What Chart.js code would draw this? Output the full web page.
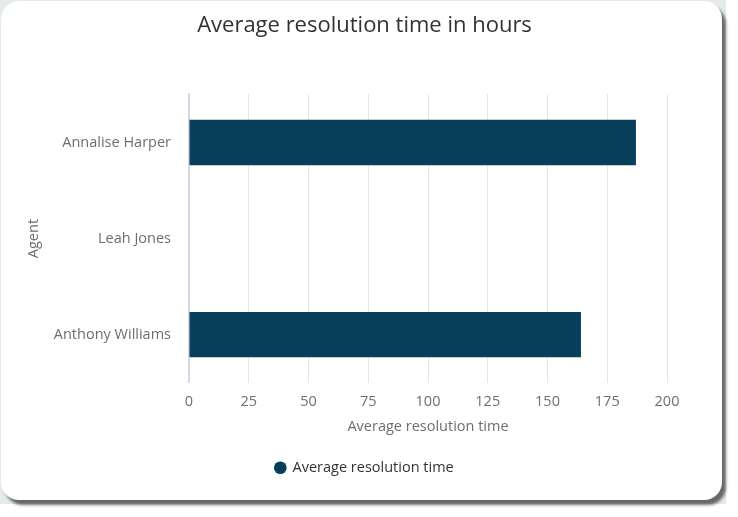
<!DOCTYPE html>
<html>
<head>
<meta charset="utf-8">
<script src="https://cdn.jsdelivr.net/npm/chart.js@4"></script>
<style>
  html, body { margin: 0; padding: 0; background: #fff; }
  body { width: 738px; height: 517px; position: relative; overflow: hidden; }
  .backdrop { position: absolute; left: 0; top: 0; width: 726px; height: 504px; background: #e3eae8; }
  .card {
    position: absolute; left: 1px; top: 1px; width: 721px; height: 499px;
    background: #fff; border-radius: 18px;
    box-shadow: 4px 5px 3px rgba(0, 0, 0, 0.55);
  }
  .card canvas { display: block; }
</style>
</head>
<body>
<div class="backdrop"></div>
<div class="card"><canvas id="chart" width="721" height="499"></canvas></div>
<script>
const agents = ["Annalise Harper", "Leah Jones", "Anthony Williams"];
const avgHours = [187, 0, 164];
const seriesName = "Average resolution time";

const barColor = "#073e5a";
const font = "'Open Sans', Lato, sans-serif";

var ctx = document.getElementById("chart").getContext("2d");
var myChart = new Chart(ctx, {
  type: "bar",
  data: {
    labels: agents,
    datasets: [
      {
        label: seriesName,
        data: avgHours,
        backgroundColor: barColor,
        borderWidth: 0,
        barPercentage: 0.59,
        categoryPercentage: 0.8,
      },
    ],
  },
  options: {
    indexAxis: "y",
    responsive: false,
    animation: false,
    layout: { padding: { left: 17, right: 11, top: 5, bottom: 15 } },
    plugins: {
      title: {
        display: true,
        text: "Average resolution time in hours",
        color: "#323232",
        font: { family: font, size: 22, weight: "normal" },
        padding: { top: 7, bottom: 55 },
      },
      legend: {
        position: "bottom",
        labels: {
          usePointStyle: true,
          pointStyle: "circle",
          boxWidth: 10,
          boxHeight: 9,
          color: "#333",
          padding: 10,
          font: { family: font, size: 14.5 },
        },
      },
      tooltip: { enabled: false },
    },
    scales: {
      x: {
        min: 0,
        max: 200,
        ticks: { stepSize: 25, color: "#6e6e6e", padding: 10, font: { family: font, size: 14.5 } },
        grid: { color: "#e4e4e4", drawTicks: false },
        border: { display: false },
        title: {
          display: true,
          text: seriesName,
          color: "#6e6e6e",
          padding: { top: -2, bottom: 15 },
          font: { family: font, size: 14.5 },
        },
        afterFit: function (scale) {
          scale.paddingRight = 55;
        },
      },
      y: {
        ticks: { color: "#6e6e6e", padding: 18, font: { family: font, size: 14.5 } },
        grid: { display: false, drawTicks: false },
        border: { display: true, color: "#d6d8e8", width: 2 },
        title: {
          display: true,
          text: "Agent",
          color: "#6e6e6e",
          padding: 7,
          font: { family: font, size: 14.5 },
        },
        afterFit: function (scale) {
          scale.width = 171;
        },
      },
    },
  },
});
</script>
</body>
</html>
